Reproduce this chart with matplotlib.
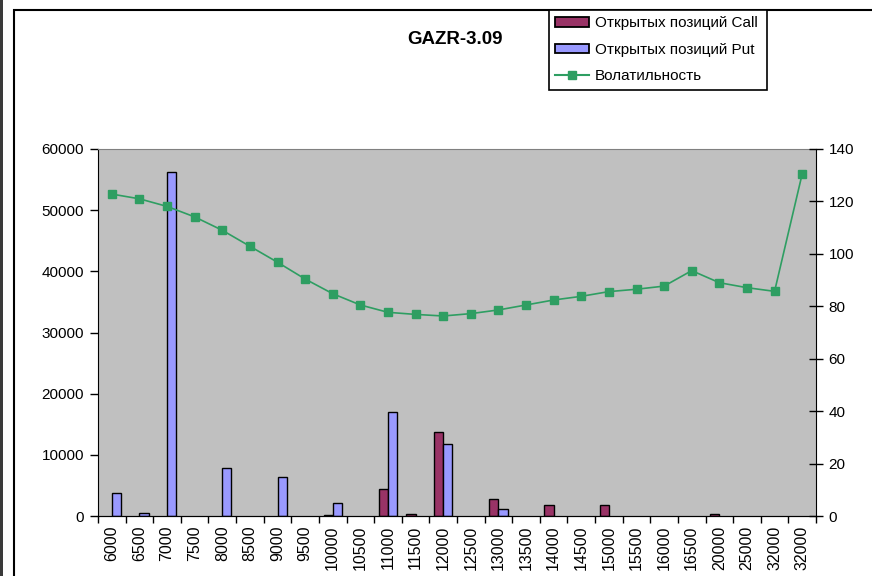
import numpy as np
import matplotlib.pyplot as plt
from matplotlib.patches import Rectangle, Patch
from matplotlib.lines import Line2D

plt.rcParams['font.family'] = ['Liberation Sans', 'DejaVu Sans']

strikes = ["6000", "6500", "7000", "7500", "8000", "8500", "9000", "9500",
           "10000", "10500", "11000", "11500", "12000", "12500", "13000", "13500",
           "14000", "14500", "15000", "15500", "16000", "16500", "20000", "25000",
           "32000", "32000"]
call_oi = [0, 0, 0, 0, 0, 0, 0, 0,
           150, 0, 4350, 330, 13700, 0, 2720, 0,
           1750, 0, 1750, 0, 0, 0, 330, 0,
           0, 0]
put_oi = [3700, 500, 56300, 0, 7900, 0, 6300, 0,
          2100, 0, 17050, 0, 11700, 0, 1100, 0,
          0, 0, 0, 0, 0, 0, 0, 0,
          0, 0]
volatility = [122.8, 121.0, 118.1, 114.1, 109.0, 102.9, 96.8, 90.4,
              84.8, 80.5, 77.7, 76.9, 76.3, 77.2, 78.6, 80.5,
              82.4, 83.8, 85.6, 86.5, 87.7, 93.6, 89.0, 87.1,
              85.7, 130.5]

CALL = "#993366"
PUT = "#9999FF"
GREEN = "#2E9E62"

fig = plt.figure(figsize=(8.72, 5.76), dpi=100)

# outer chart frame + dark strip on the left
fig.patches.append(Rectangle((14 / 872, -0.1), 1.2, 1 - 10 / 576 + 0.1,
                             transform=fig.transFigure, fill=False,
                             edgecolor="black", linewidth=1.5, zorder=0))
fig.patches.append(Rectangle((0, 0), 3 / 872, 1, transform=fig.transFigure,
                             facecolor="#3a3a3a", edgecolor="none", zorder=0))

ax = fig.add_axes([98 / 872, 1 - 516 / 576, 718 / 872, 367 / 576])
ax.set_facecolor("#C0C0C0")

x = np.arange(len(strikes))
w = 1 / 3
call = np.array(call_oi, dtype=float)
put = np.array(put_oi, dtype=float)
# excel draws nothing for empty cells
mc = call > 0
mp = put > 0
ax.bar(x[mc] - w / 2, call[mc], width=w, color=CALL, edgecolor="black", linewidth=1)
ax.bar(x[mp] + w / 2, put[mp], width=w, color=PUT, edgecolor="black", linewidth=1)

ax.set_xlim(-0.5, len(strikes) - 0.5)
ax.set_ylim(0, 60000)
ax.set_yticks(np.arange(0, 60001, 10000))
ax.set_xticks(x)
ax.set_xticklabels(strikes, rotation=90, fontsize=11.5)
ax.set_xticks(np.arange(-0.5, len(strikes), 1), minor=True)
ax.tick_params(axis="x", which="major", length=0, pad=7)
ax.tick_params(axis="x", which="minor", length=5, width=1)
ax.tick_params(axis="y", length=6, width=1, labelsize=11, pad=4)
ax.spines["top"].set_color("#808080")
ax.spines["right"].set_visible(False)

ax2 = ax.twinx()
ax2.plot(x, volatility, color=GREEN, linewidth=1.2, marker="s", markersize=6,
         markerfacecolor=GREEN, markeredgecolor=GREEN)
ax2.set_ylim(0, 140)
ax2.set_yticks(np.arange(0, 141, 20))
ax2.tick_params(axis="y", direction="inout", length=10, width=1, labelsize=11, pad=4)
ax2.spines["top"].set_visible(False)
ax2.spines["left"].set_visible(False)

fig.text(455 / 872, 1 - 40 / 576, "GAZR-3.09", ha="center", va="center",
         fontsize=13.5, fontweight="bold")

handles = [Patch(facecolor=CALL, edgecolor="black", linewidth=1.3),
           Patch(facecolor=PUT, edgecolor="black", linewidth=1.3),
           Line2D([], [], color=GREEN, marker="s", markersize=6,
                  markerfacecolor=GREEN, markeredgecolor=GREEN)]
labels = ["Открытых позиций Call", "Открытых позиций Put", "Волатильность"]
leg = fig.legend(handles, labels, loc="upper left",
                 bbox_to_anchor=(549 / 872, 1 - 87 / 576, 218 / 872, 77 / 576),
                 mode="expand", fancybox=False, framealpha=1, edgecolor="black",
                 fontsize=11, handlelength=2.2, handleheight=0.55,
                 handletextpad=0.4, borderaxespad=0, labelspacing=0.82,
                 borderpad=0.42)
leg.get_frame().set_linewidth(1.2)

fig.savefig("out.png", dpi=100)
